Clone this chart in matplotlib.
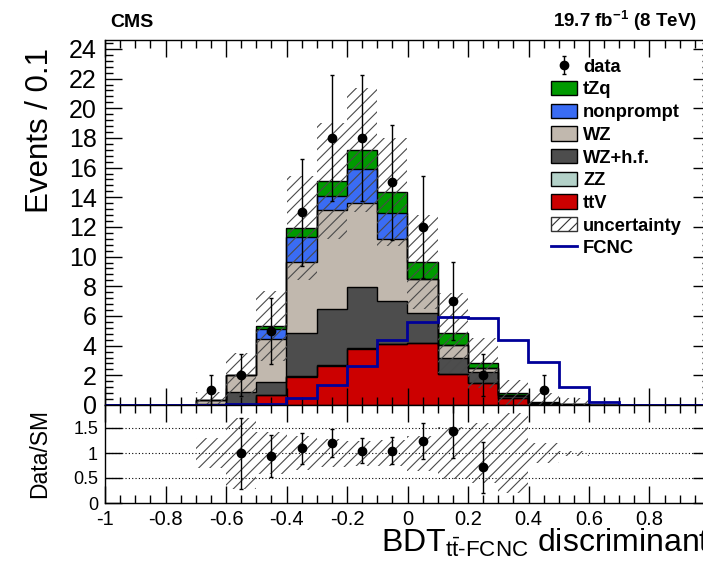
import numpy as np
import matplotlib
matplotlib.use('Agg')
import matplotlib.pyplot as plt
from matplotlib.patches import Patch
from matplotlib.lines import Line2D
from matplotlib.ticker import MultipleLocator, FuncFormatter

plt.rcParams['font.family'] = ['Liberation Sans', 'DejaVu Sans']
plt.rcParams['mathtext.fontset'] = 'custom'
plt.rcParams['mathtext.rm'] = 'Liberation Sans'
plt.rcParams['mathtext.it'] = 'Liberation Sans:italic'
plt.rcParams['mathtext.bf'] = 'Liberation Sans:bold'
plt.rcParams['hatch.linewidth'] = 0.8

# ---------------- data (20 bins of 0.1 from -1 to 1) ----------------
bin_edges = np.round(np.linspace(-1.0, 1.0, 21), 2)
ttV      = [0, 0, 0, 0.00, 0.00, 0.67, 1.91, 2.65, 3.80, 4.09, 4.16, 2.07, 1.46, 0.45, 0.08, 0.02, 0, 0, 0, 0]
ZZ       = [0, 0, 0, 0.00, 0.02, 0.03, 0.05, 0.05, 0.05, 0.05, 0.05, 0.03, 0.02, 0.01, 0.00, 0.00, 0, 0, 0, 0]
WZ_hf    = [0, 0, 0, 0.05, 0.84, 0.83, 2.92, 3.75, 4.13, 2.90, 1.97, 1.05, 0.77, 0.15, 0.05, 0.01, 0, 0, 0, 0]
WZ       = [0, 0, 0, 0.29, 1.16, 2.90, 4.76, 6.70, 5.66, 4.15, 2.32, 0.90, 0.22, 0.09, 0.03, 0.01, 0, 0, 0, 0]
nonprompt= [0, 0, 0, 0.00, 0.00, 0.72, 1.71, 0.94, 2.25, 1.78, 0.00, 0.00, 0.00, 0.00, 0.00, 0.00, 0, 0, 0, 0]
tZq      = [0, 0, 0, 0.00, 0.00, 0.20, 0.56, 1.01, 1.30, 1.37, 1.14, 0.78, 0.34, 0.13, 0.04, 0.01, 0, 0, 0, 0]
data     = [0, 0, 0, 1, 2, 5, 13, 18, 18, 15, 12, 7, 2, 0, 1, 0, 0, 0, 0, 0]
fcnc     = [0, 0, 0, 0.02, 0.05, 0.10, 0.49, 1.35, 2.65, 4.38, 5.62, 5.96, 5.84, 4.38, 2.92, 1.24, 0.22, 0, 0, 0]
mc_unc   = [0, 0, 0, 0.56, 1.46, 2.36, 3.50, 3.90, 4.16, 3.64, 3.17, 2.70, 1.69, 0.86, 0.59, 0.40, 0, 0, 0, 0]
ratio_unc= [0, 0, 0, 0.30, 0.71, 0.42, 0.34, 0.28, 0.25, 0.26, 0.35, 0.52, 0.60, 0.80, 0.20, 0.05, 0, 0, 0, 0]

layer_names  = ['ttV', 'ZZ', 'WZ+h.f.', 'WZ', 'nonprompt', 'tZq']
layer_values = [ttV, ZZ, WZ_hf, WZ, nonprompt, tZq]
layer_colors = ['#cc0000', '#b3d1c8', '#4d4d4d', '#c1b8ae', '#3a6cf4', '#009a00']
fcnc_color = '#000099'

edges = bin_edges
centers = 0.5 * (edges[:-1] + edges[1:])
width = 0.1

W, H = 703, 569
fig = plt.figure(figsize=(W / 100, H / 100), dpi=100)
ax = fig.add_axes([105 / W, 1 - 405 / H, 605 / W, 365 / H])
rax = fig.add_axes([105 / W, 1 - 503 / H, 605 / W, 98 / H], sharex=ax)

# ---------------- stack ----------------
base = np.zeros(len(centers))
tops = []
for vals, col in zip(layer_values, layer_colors):
    top = base + np.asarray(vals, float)
    ax.stairs(top, edges, baseline=base, fill=True, color=col, lw=0, zorder=1)
    tops.append(top)
    base = top
for top in tops:
    ax.stairs(top, edges, baseline=None, color='black', lw=1.0, zorder=2)
total = base

# uncertainty hatch
unc = np.asarray(mc_unc, float)
m = unc > 0
lo = np.maximum(0, total - unc)
hi = total + unc
ax.bar(centers[m], (hi - lo)[m], bottom=lo[m], width=width, fill=False,
       hatch='///', edgecolor='#4a4a4a', lw=0, zorder=3)

# FCNC
ax.stairs(fcnc, edges, baseline=None, color=fcnc_color, lw=2, zorder=4)

# data
d = np.asarray(data, float)
md = d > 0
dat = ax.errorbar(centers[md], d[md], yerr=np.sqrt(d[md]), fmt='o', color='black',
                  ms=6, elinewidth=1, capsize=1.5, capthick=1, zorder=5)

ax.set_xlim(-1, 1)
ax.set_ylim(0, 24.6)

# legend
handles = [dat] + [Patch(facecolor=c, edgecolor='black', lw=1) for c in layer_colors[::-1]] + \
          [Patch(facecolor='white', edgecolor='#333333', hatch='///', lw=1),
           Line2D([], [], color=fcnc_color, lw=2)]
labels = ['data'] + layer_names[::-1] + ['uncertainty', 'FCNC']
ax.legend(handles, labels, loc='upper left', bbox_to_anchor=(0.738, 0.950), frameon=False,
          prop={'weight': 'bold', 'size': 13.2}, handlelength=1.38, handleheight=0.83,
          handletextpad=0.35, labelspacing=0.28, borderpad=0, borderaxespad=0)

# ---------------- ratio ----------------
rel = np.asarray(ratio_unc, float)
mr = rel > 0
rax.bar(centers[mr], 2 * rel[mr], bottom=1 - rel[mr], width=width, fill=False,
        hatch='///', edgecolor='#4a4a4a', lw=0, zorder=1)
for yv in [0.5, 1.0, 1.5]:
    rax.axhline(yv, color='black', lw=0.8, ls=(0, (1, 2)), zorder=0)
with np.errstate(divide='ignore', invalid='ignore'):
    ratio = np.where(total > 0, d / total, 0)
    rerr = np.where(total > 0, np.sqrt(d) / total, 0)
mrr = (d > 0) & (ratio < 1.9)
rax.errorbar(centers[mrr], ratio[mrr], yerr=rerr[mrr], fmt='o', color='black',
             ms=6, elinewidth=1, capsize=1.5, capthick=1, zorder=5)
rax.set_ylim(0, 1.96)

# ---------------- ticks ----------------
def xfmt(v, p):
    if v > 0.99:
        return ''
    v = round(v, 2)
    if abs(v) < 1e-9:
        v = 0
    return '%g' % v

for a in (ax, rax):
    a.xaxis.set_major_locator(MultipleLocator(0.2))
    a.xaxis.set_minor_locator(MultipleLocator(0.05))
    a.tick_params(which='both', direction='in', top=True, right=True, width=1)
    a.tick_params(which='major', length=12)
    a.tick_params(which='minor', length=6)
    for s in a.spines.values():
        s.set_linewidth(1)

ax.yaxis.set_major_locator(MultipleLocator(2))
ax.yaxis.set_minor_locator(MultipleLocator(0.4))
ax.yaxis.set_major_formatter(FuncFormatter(lambda v, p: '%g' % v))
ax.tick_params(axis='y', labelsize=18, pad=6)
ax.tick_params(axis='x', labelbottom=False)

rax.yaxis.set_major_locator(MultipleLocator(0.5))
rax.yaxis.set_major_formatter(FuncFormatter(lambda v, p: '%g' % v if v < 1.9 else ''))
rax.tick_params(axis='y', which='minor', left=False, right=False)
rax.tick_params(axis='y', labelsize=13, pad=5)
rax.xaxis.set_major_formatter(FuncFormatter(xfmt))
rax.tick_params(axis='x', labelsize=14.5, pad=5)

# ---------------- texts ----------------
fig.text(40 / W, 1 - 48 / H, 'Events / 0.1', rotation=90, ha='center', va='top', fontsize=22.5)
fig.text(40 / W, 1 - 453 / H, 'Data/SM', rotation=90, ha='center', va='center', fontsize=16.5)
fig.text(710 / W, 1 - 552 / H, r'BDT$_{\mathrm{t\bar{t}\text{-}FCNC}}$ discriminant',
         ha='right', va='baseline', fontsize=23)
fig.text(110 / W, 1 - 27 / H, 'CMS', ha='left', va='baseline', fontsize=14, fontweight='bold')
fig.text(697 / W, 1 - 27 / H, r'19.7 fb$^{\mathbf{-1}}$ (8 TeV)', ha='right', va='baseline',
         fontsize=13.5, fontweight='bold')

fig.savefig('out.png', dpi=100)
